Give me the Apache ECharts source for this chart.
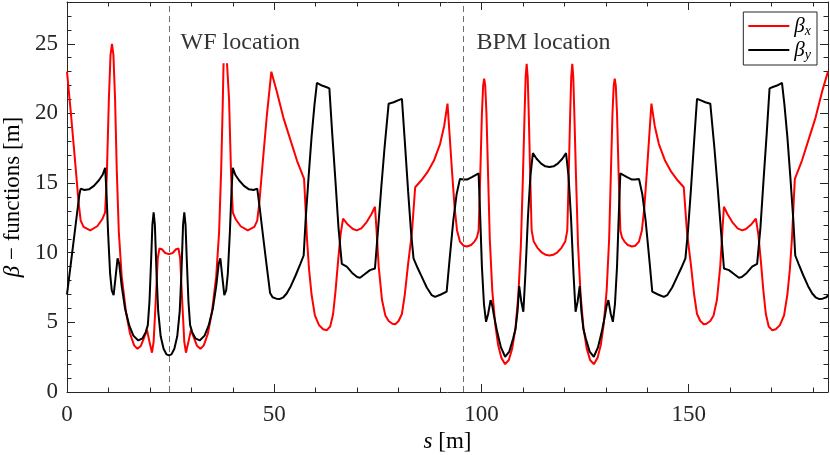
<!DOCTYPE html>
<html>
<head>
<meta charset="utf-8">
<script src="https://cdn.jsdelivr.net/npm/echarts@6/dist/echarts.min.js"></script>
<style>
html,body{margin:0;padding:0;background:#fff;}
#chart{width:830px;height:455px;}
</style>
</head>
<body>
<div id="chart"></div>
<script>
// s positions [m] and beta_x values [m] ('-' = gap in the original trace)
var sX = [0,1,2,2.8,3.3,4.0,5.6,7.3,8.5,9.2,9.6,10.1,10.5,10.85,11.2,11.6,12.0,12.5,13.2,14.2,15.2,16.2,17.0,17.8,18.6,19.3,19.9,20.5,20.9,21.4,21.9,22.3,22.9,23.7,24.6,
25.5,26.3,26.9,27.3,27.8,28.3,28.7,29.3,29.9,30.6,31.4,32.2,33.0,34.0,35.0,36.0,36.7,37.2,37.6,37.77,38.2,38.6,39.1,39.6,40.0,40.7,41.9,43.6,45.2,45.9,46.4,47.2,48.2,
49.3,50.6,52.2,53.9,55.5,57.2,57.5,57.9,58.4,59.0,59.8,60.8,61.8,62.7,63.5,64.2,64.8,65.4,66.0,66.6,67.8,69.0,69.9,71.0,72.3,73.5,74.3,74.6,75.2,76.0,76.8,77.6,78.5,79.2,80.0,80.8,81.5,82.3,83.2,84.0,85.5,87.0,88.5,90.0,91.0,91.8,92.3,92.9,93.5,94.1,
94.8,95.7,96.5,97.5,98.3,98.9,99.3,99.7,100.1,100.4,100.65,100.9,101.2,101.6,102.0,102.6,103.3,104.0,104.8,105.7,106.6,107.4,108.2,108.9,109.5,110.0,110.4,110.65,110.9,111.15,111.4,111.8,112.1,112.6,113.5,114.6,115.5,116.4,
117.3,118.2,119.3,120.2,120.7,121.0,121.4,121.65,121.9,122.15,122.4,122.8,123.3,123.9,124.6,125.4,126.2,127.1,128.0,128.8,129.5,130.2,130.8,131.2,131.6,131.9,132.15,132.4,132.7,133.1,133.5,133.9,134.5,135.3,136.3,137.1,138.0,138.7,139.3,139.9,140.5,
141.0,141.8,142.8,144.3,145.8,147.3,148.8,149.6,150.5,151.3,152.0,152.8,153.6,154.3,155.2,156.0,156.8,157.6,158.2,158.5,159.3,160.5,161.8,162.9,163.8,165.0,166.2,166.8,167.4,168.0,168.6,169.3,170.1,171.0,172.0,173.0,173.8,174.4,174.9,175.3,175.6,177.3,178.9,180.6,182.2,183.6];
var betaX = [23.0,19.8,16.4,13.6,12.3,11.85,11.6,11.9,12.4,12.9,15.5,21.0,24.2,25.0,24.2,21.0,16.0,11.5,8.3,5.8,4.2,3.35,3.1,3.3,3.9,4.45,3.6,2.82,3.6,6.5,9.6,10.3,10.25,9.98,9.9,
9.98,10.25,10.3,9.6,6.5,3.6,2.82,3.6,4.45,3.9,3.3,3.1,3.35,4.2,5.8,8.3,11.5,16.0,21.0,23.6,'-',23.6,21.0,15.5,12.9,12.4,11.9,11.6,11.85,12.3,13.6,16.4,19.8,
23.0,21.6,19.7,18.1,16.6,15.3,13.5,11.0,8.8,7.0,5.5,4.8,4.5,4.44,4.7,5.6,7.3,9.4,11.3,12.45,12.0,11.7,11.6,11.75,12.2,12.8,13.3,12.0,9.0,6.6,5.5,5.1,4.9,4.87,5.1,5.6,7.0,9.2,11.4,14.7,15.2,15.8,16.6,17.8,19.1,20.7,18.5,15.8,13.3,11.6,
10.8,10.5,10.45,10.55,10.8,11.1,11.6,15.5,20.0,22.0,22.5,22.0,20.0,15.5,11.0,7.3,4.9,3.4,2.45,2.0,2.3,3.1,4.6,7.0,10.5,15.5,20.0,22.6,23.56,22.6,20.0,15.0,11.6,10.8,10.35,10.0,9.85,9.8,
9.85,10.0,10.35,10.8,11.6,15.0,20.0,22.6,23.56,22.6,20.0,15.5,10.5,7.0,4.6,3.1,2.3,2.0,2.45,3.4,4.9,7.3,11.0,15.5,20.0,22.0,22.5,22.0,20.0,15.5,11.6,11.1,10.8,10.55,10.45,10.5,10.8,11.6,13.3,15.8,18.5,
20.7,19.1,17.8,16.6,15.8,15.2,14.7,11.4,9.2,7.0,5.6,5.1,4.87,4.9,5.1,5.5,6.6,9.0,12.0,13.3,12.8,12.2,11.75,11.6,11.7,12.0,12.45,11.3,9.4,7.3,5.6,4.7,4.44,4.5,4.8,5.5,7.0,8.8,11.0,13.5,15.3,16.6,18.1,19.7,21.6,23.0];

// s positions [m] and beta_y values [m]
var sY = [0,1,2,3.0,3.3,4.2,5.3,6.5,7.7,8.6,9.2,9.5,9.9,10.4,10.8,11.25,11.7,12.2,12.6,13.2,14.0,15.0,16.0,17.2,18.2,19.0,19.5,19.9,20.3,20.6,20.9,21.2,21.6,22.0,22.6,23.3,24.0,24.6,
25.2,25.9,26.6,27.2,27.6,28.0,28.3,28.6,28.9,29.3,29.7,30.2,31.0,32.0,33.2,34.2,35.2,36.0,36.6,37.0,37.5,37.95,38.4,38.8,39.3,39.7,40.0,40.6,41.5,42.7,43.9,45.0,45.9,
46.5,47.3,48.2,49.0,49.6,50.5,51.4,52.2,53.0,54.0,55.2,56.3,57.1,57.6,58.3,59.0,59.7,60.3,61.5,62.5,63.3,64.0,64.8,65.5,66.3,67.5,68.8,70.0,70.7,71.8,73.1,74.3,75.0,75.8,76.6,77.6,78.8,80.0,80.8,81.5,82.3,83.0,83.6,84.6,85.6,86.8,88.0,88.8,90.2,91.6,92.3,93.2,94.0,94.8,95.7,96.5,97.8,99.3,
99.7,100.1,100.6,101.1,101.6,102.2,102.6,103.0,103.8,104.7,105.7,106.7,107.6,108.2,108.7,109.1,109.6,110.1,110.6,111.2,111.8,112.4,113.3,114.4,115.4,116.4,
117.4,118.4,119.5,120.4,121.0,121.6,122.2,122.7,123.2,123.7,124.1,124.6,125.2,126.1,127.1,128.1,129.0,129.8,130.2,130.6,131.2,131.7,132.2,132.7,133.1,133.5,135.0,136.3,137.1,138.0,138.8,139.6,140.5,141.2,142.6,144.0,144.8,146.0,147.2,148.2,149.2,149.8,150.5,151.3,152.0,152.8,154.0,155.2,156.2,157.0,157.8,158.5,159.7,161.0,162.1,162.8,164.0,165.3,166.5,167.3,168.0,168.8,169.5,170.3,171.3,172.5,173.1,173.8,174.5,175.2,175.7,176.5,177.6,178.8,179.8,180.6,181.4,182.3,183.2,183.6];
var betaY = [7.0,9.4,11.8,14.2,14.6,14.5,14.55,14.8,15.2,15.6,16.1,14.5,11.5,8.5,7.3,6.95,8.2,9.6,9.2,7.6,6.0,4.8,4.05,3.7,3.85,4.3,4.8,6.5,9.5,12.0,12.9,12.0,8.5,5.8,4.0,3.1,2.7,2.63,
2.7,3.1,4.0,5.8,8.5,12.0,12.9,12.0,9.5,6.5,4.8,4.3,3.85,3.7,4.05,4.8,6.0,7.6,9.2,9.6,8.2,6.95,7.3,8.5,11.5,14.5,16.1,15.6,15.2,14.8,14.55,14.5,14.6,
13.2,11.2,9.0,7.1,6.8,6.7,6.68,6.8,7.07,7.6,8.4,9.2,9.8,12.5,15.5,18.3,20.6,22.2,22.0,21.9,21.8,18.5,15.0,11.8,9.2,9.0,8.55,8.25,8.2,8.45,8.75,8.87,11.5,14.6,17.5,20.7,20.8,20.95,21.05,18.0,14.4,11.5,9.6,8.9,8.27,7.5,6.95,6.83,7.0,7.2,9.5,12.3,14.2,15.3,15.25,15.25,15.45,15.7,
12.5,9.0,6.3,5.04,5.6,6.6,6.2,5.5,4.3,3.2,2.53,2.9,3.8,4.5,5.8,7.6,6.5,5.76,8.5,12.5,15.5,17.15,16.75,16.4,16.2,16.15,
16.2,16.4,16.75,17.15,15.5,12.5,8.5,5.76,6.5,7.6,5.8,4.5,3.8,2.9,2.53,3.2,4.3,5.5,6.2,6.6,5.6,5.04,6.3,9.0,12.5,15.7,15.45,15.25,15.25,15.3,14.2,12.3,9.5,7.2,7.0,6.83,6.95,7.5,8.27,8.9,9.6,11.5,14.4,18.0,21.05,20.95,20.8,20.7,17.5,14.6,11.5,8.87,8.75,8.45,8.2,8.25,8.55,9.0,9.2,11.8,15.0,18.5,21.8,21.9,22.0,22.2,20.6,18.3,15.5,12.5,9.8,9.2,8.4,7.6,7.07,6.8,6.68,6.7,6.8,6.95];

var markerS = [24.7, 95.5];
var markerNames = ['WF location', 'BPM location'];
var labelPos = [[27.4, 25.05], [98.8, 25.05]];

function pairs(xs, ys){ var o=[]; for (var i=0;i<xs.length;i++) o.push([xs[i], ys[i]]); return o; }

var FONT = "'Liberation Serif', 'Times New Roman', serif";
var AX = '#262626';
var XMIN = 0, XMAX = 183.6, YMIN = 0, YMAX = 28;

function xAx(pos, interval, len, showLine, showLabel, extra){
  var a = {type:'value', position:pos, min:XMIN, max:XMAX, interval:interval,
    axisLine:{show:showLine, onZero:false, lineStyle:{color:AX, width:1}},
    axisTick:{show:true, inside:true, length:len, lineStyle:{color:AX, width:1}},
    axisLabel:{show:showLabel, showMaxLabel:false, color:AX, fontSize:23, fontFamily:FONT, margin:11},
    splitLine:{show:false}};
  for (var k in extra) a[k]=extra[k];
  return a;
}
function yAx(pos, interval, len, showLine, showLabel, extra){
  var a = {type:'value', position:pos, min:YMIN, max:YMAX, interval:interval,
    axisLine:{show:showLine, onZero:false, lineStyle:{color:AX, width:1}},
    axisTick:{show:true, inside:true, length:len, lineStyle:{color:AX, width:1}},
    axisLabel:{show:showLabel, showMaxLabel:false, color:AX, fontSize:23, fontFamily:FONT, margin:9},
    splitLine:{show:false}};
  for (var k in extra) a[k]=extra[k];
  return a;
}

var chart = echarts.init(document.getElementById('chart'), null, {renderer:'canvas'});
chart.setOption({
  animation:false,
  backgroundColor:'#fff',
  grid:{left:67, right:2, top:2, bottom:63, containLabel:false, outerBoundsMode:'none'},
  xAxis:[
    xAx('bottom',50,8,true,true,{name:'{i|s} [m]', nameLocation:'middle', nameGap:33,
      nameTextStyle:{color:'#000', fontSize:23, fontFamily:FONT, rich:{i:{fontStyle:'italic', fontSize:23, fontFamily:FONT}}}}),
    xAx('bottom',10,4.5,false,false,{}),
    xAx('top',50,8,true,false,{}),
    xAx('top',10,4.5,false,false,{})
  ],
  yAxis:[
    yAx('left',5,8,true,true,{name:'{i|β} − functions [m]', nameLocation:'middle', nameGap:40,
      nameTextStyle:{color:'#000', fontSize:23, fontFamily:FONT, rich:{i:{fontStyle:'italic', fontSize:23, fontFamily:FONT}}}}),
    yAx('left',1,4.5,false,false,{}),
    yAx('right',5,8,true,false,{}),
    yAx('right',1,4.5,false,false,{})
  ],
  legend:{
    data:['bx','by'], orient:'vertical', right:13, top:12,
    icon:'path://M0,0H41V2H0Z',
    itemWidth:41, itemHeight:2, itemGap:1,
    padding:[3,6,3,5],
    borderColor:AX, borderWidth:1, backgroundColor:'#fff',
    formatter:function(n){ return n==='bx' ? '{b|β}{s|x}' : '{b|β}{s|y}'; },
    textStyle:{color:'#000', fontFamily:FONT, rich:{
      b:{fontSize:21, fontStyle:'italic', fontFamily:FONT, lineHeight:24},
      s:{fontSize:14, fontStyle:'italic', fontFamily:FONT, verticalAlign:'bottom', padding:[9,0,0,0], lineHeight:24}}}
  },
  series:[
    {name:'bx', type:'line', data:pairs(sX, betaX), showSymbol:false, symbol:'none', connectNulls:false,
      lineStyle:{color:'#ff0000', width:2}, itemStyle:{color:'#ff0000'}, z:3,
      markLine:{silent:true, symbol:'none', label:{show:false},
        lineStyle:{color:'#6e6e6e', width:1, type:[6,4]},
        data: markerS.map(function(v){ return {xAxis:v}; })}},
    {name:'by', type:'line', data:pairs(sY, betaY), showSymbol:false, symbol:'none',
      lineStyle:{color:'#000', width:2}, itemStyle:{color:'#000'}, z:4},
    {name:'labels', type:'scatter', symbolSize:0, silent:true, z:5,
      data: labelPos.map(function(p,i){ return [p[0], p[1], markerNames[i]]; }),
      label:{show:true, position:'right', distance:0, color:'#000', fontSize:24, fontFamily:FONT,
        formatter:function(p){ return p.value[2]; }}}
  ]
});
</script>
</body>
</html>
